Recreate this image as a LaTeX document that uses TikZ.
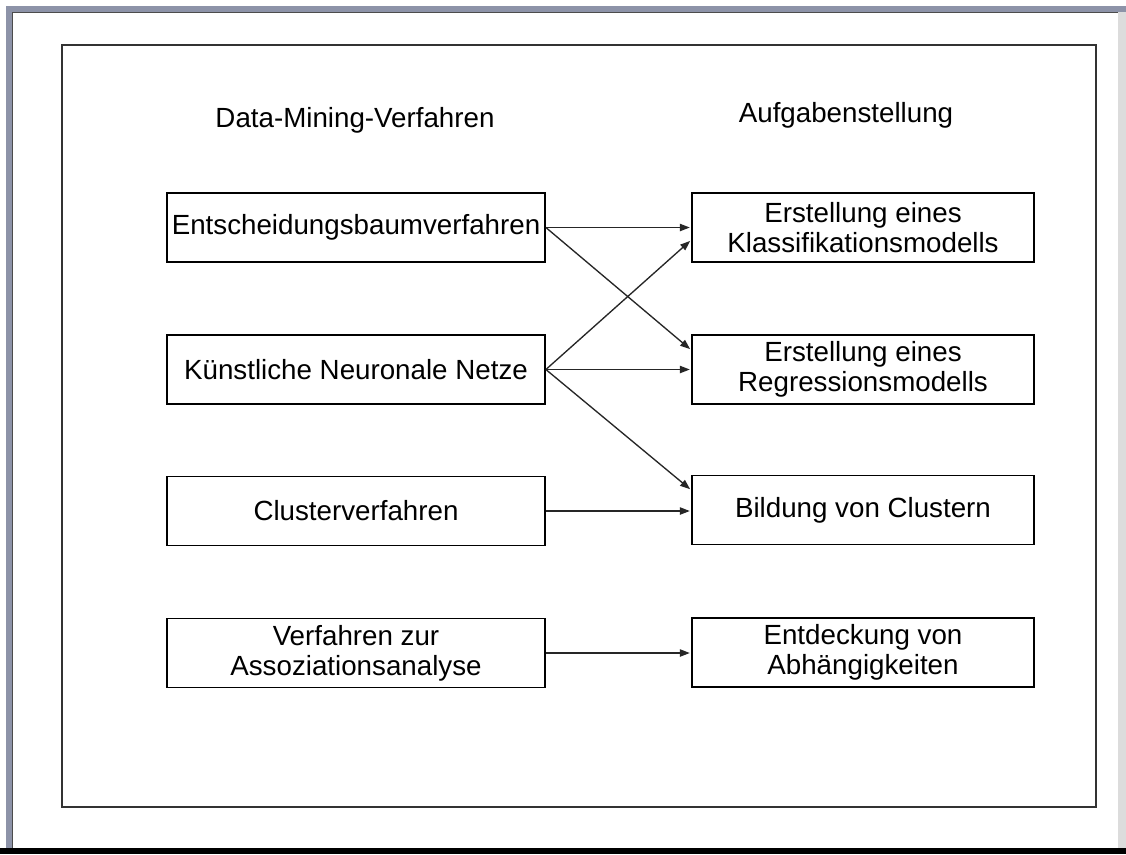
\documentclass[tikz,border=0pt]{standalone}
\usepackage{fontspec}
\setmainfont{Liberation Sans}
\usetikzlibrary{arrows.meta,calc}

\definecolor{bandblue}{HTML}{8D93A8}
\definecolor{bandlight}{HTML}{DCDCDC}
\definecolor{framegray}{HTML}{333333}

\tikzset{
  txt/.style={font=\fontsize{20.8}{22.5}\selectfont, text=black, inner sep=0pt},
  leftbox/.style={txt, draw=black, line width=1.3pt, fill=white, align=center,
    minimum width=283.5pt, minimum height=51.75pt},
  rightbox/.style={txt, draw=black, line width=1.3pt, fill=white, align=center,
    minimum width=256.5pt, minimum height=51.75pt},
  link/.style={draw=black!85, line width=1pt,
    -{Triangle[length=7.5pt,width=5.5pt]}, shorten >=1pt},
}

\begin{document}
\begin{tikzpicture}[x=0.75pt, y=-0.75pt]
  \useasboundingbox (0,0) rectangle (1126,854);
  \fill[white] (0,0) rectangle (1126,854);

  % window edges
  \fill[bandblue] (6,6) rectangle (1126,12);
  \fill[bandblue] (6,6) rectangle (12,848);
  \draw[black!70, line width=0.9pt] (12,12.5) -- (1118,12.5);
  \draw[black!70, line width=0.9pt] (12.5,12) -- (12.5,848);
  \fill[bandlight] (1118,12) rectangle (1126,848);
  \fill[black] (0,848) rectangle (1126,854);

  % slide frame
  \draw[framegray, line width=1.5pt] (62,45) rectangle (1096,807);

  % column headings
  \node[txt, anchor=base] (hl) at (355,127) {Data-Mining-Verfahren};
  \node[txt, anchor=base] (hr) at (846,122) {Aufgabenstellung};

  % methods
  \node[leftbox] (ent) at (356,227.5) {Entscheidungsbaumverfahren};
  \node[leftbox] (knn) at (356,369.5) {Künstliche Neuronale Netze};
  \node[leftbox] (clu) at (356,511)   {Clusterverfahren};
  \node[leftbox] (ass) at (356,653)   {Verfahren zur\\Assoziationsanalyse};

  % tasks
  \node[rightbox] (kla) at (863,227.5) {Erstellung eines\\Klassifikationsmodells};
  \node[rightbox] (reg) at (863,369.5) {Erstellung eines\\Regressionsmodells};
  \node[rightbox] (bil) at (863,510)   {Bildung von Clustern};
  \node[rightbox] (abh) at (863,652.5) {Entdeckung von\\Abhängigkeiten};

  % assignments
  \draw[link] (ent.east) -- (kla.west);
  \draw[link] (ent.east) -- ($(reg.west)+(0,-19.5)$);
  \draw[link] (knn.east) -- ($(kla.west)+(0,12.5)$);
  \draw[link] (knn.east) -- (reg.west);
  \draw[link] (knn.east) -- ($(bil.west)+(0,-20)$);
  \draw[link] (clu.east) -- (bil.west |- clu.east);
  \draw[link] (ass.east) -- (abh.west |- ass.east);
\end{tikzpicture}
\end{document}
